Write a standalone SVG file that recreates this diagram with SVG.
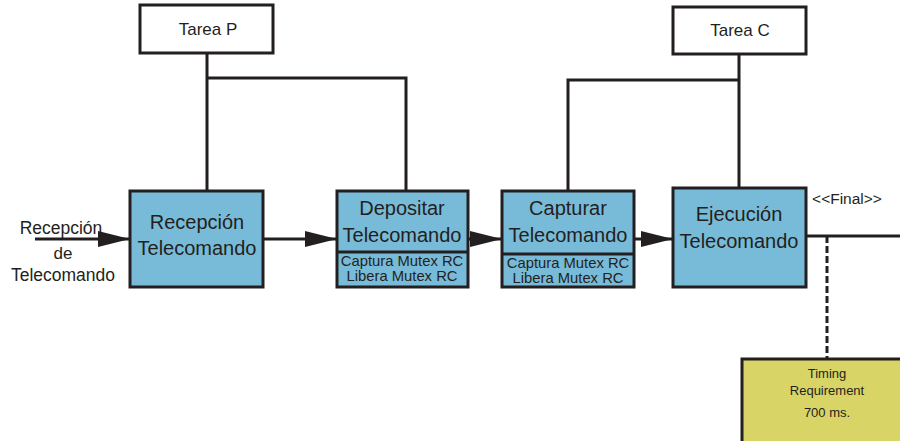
<svg xmlns="http://www.w3.org/2000/svg" width="900" height="441" viewBox="0 0 900 441">
  <style>
    .txt { font-family: "Liberation Sans", Arial, sans-serif; fill: #231F20; text-anchor: middle; }
    .task { fill: #FFFFFF; stroke: #231F20; stroke-width: 3; }
    .proc { fill: #78BBD8; stroke: #231F20; stroke-width: 3; }
    .req { fill: #D8D466; stroke: #231F20; stroke-width: 3; }
    .wire { fill: none; stroke: #231F20; stroke-width: 3; }
    .dash { fill: none; stroke: #231F20; stroke-width: 3; stroke-dasharray: 7 3; }
    .big { font-size: 20px; }
    .small { font-size: 14.8px; }
  </style>
  <defs>
    <marker id="head" markerUnits="userSpaceOnUse" markerWidth="34" markerHeight="20" refX="32" refY="10" orient="auto">
      <path d="M0,2 L32,10 L0,18 Z" fill="#231F20"/>
    </marker>
  </defs>

  <!-- connectors -->
  <g id="connectors">
    <!-- task P ownership -->
    <path class="wire" d="M207,53 V191 M207,78 H406 V191"/>
    <!-- task C ownership -->
    <path class="wire" d="M739,54 V188 M739,80 H568 V191"/>
    <!-- flow arrows -->
    <line class="wire" x1="35" y1="239" x2="130" y2="239" marker-end="url(#head)"/>
    <line class="wire" x1="263" y1="239" x2="337" y2="239" marker-end="url(#head)"/>
    <line class="wire" x1="468" y1="239" x2="502" y2="239" marker-end="url(#head)"/>
    <line class="wire" x1="634" y1="239" x2="673" y2="239" marker-end="url(#head)"/>
    <!-- final output -->
    <line class="wire" x1="806" y1="236" x2="900" y2="236"/>
    <line class="dash" x1="827" y1="236" x2="827" y2="359"/>
  </g>

  <!-- input label -->
  <g id="input-label">
    <text class="txt" x="61" y="234" font-size="17.5">Recepción</text>
    <text class="txt" x="63" y="259" font-size="17">de</text>
    <text class="txt" x="63" y="281" font-size="17.5">Telecomando</text>
  </g>

  <g id="tarea-p">
    <rect class="task" x="140" y="5" width="133" height="48"/>
    <text class="txt" x="208" y="35" font-size="17">Tarea P</text>
  </g>

  <g id="tarea-c">
    <rect class="task" x="673" y="7" width="133" height="47"/>
    <text class="txt" x="740" y="36" font-size="17">Tarea C</text>
  </g>

  <g id="recepcion">
    <rect class="proc" x="130" y="191" width="133" height="96"/>
    <text class="txt big" x="197" y="229">Recepción</text>
    <text class="txt big" x="197" y="255">Telecomando</text>
  </g>

  <g id="depositar">
    <rect class="proc" x="337" y="191" width="131" height="96"/>
    <line class="wire" x1="337" y1="252" x2="468" y2="252"/>
    <text class="txt big" x="402" y="215">Depositar</text>
    <text class="txt big" x="402" y="242">Telecomando</text>
    <text class="txt small" x="402" y="266">Captura Mutex RC</text>
    <text class="txt small" x="402" y="281">Libera Mutex RC</text>
  </g>

  <g id="capturar">
    <rect class="proc" x="502" y="191" width="132" height="96"/>
    <line class="wire" x1="502" y1="254" x2="634" y2="254"/>
    <text class="txt big" x="568" y="215">Capturar</text>
    <text class="txt big" x="568" y="242">Telecomando</text>
    <text class="txt small" x="568" y="268">Captura Mutex RC</text>
    <text class="txt small" x="568" y="283">Libera Mutex RC</text>
  </g>

  <g id="ejecucion">
    <rect class="proc" x="673" y="188" width="133" height="99"/>
    <text class="txt big" x="739" y="221">Ejecución</text>
    <text class="txt big" x="739" y="248">Telecomando</text>
    <text class="txt" x="847" y="204" font-size="15.5">&lt;&lt;Final&gt;&gt;</text>
  </g>

  <g id="timing">
    <rect class="req" x="742" y="359" width="170" height="90"/>
    <text class="txt" x="827" y="378" font-size="13">Timing</text>
    <text class="txt" x="827" y="395" font-size="13">Requirement</text>
    <text class="txt" x="827" y="417" font-size="13">700 ms.</text>
  </g>
</svg>
